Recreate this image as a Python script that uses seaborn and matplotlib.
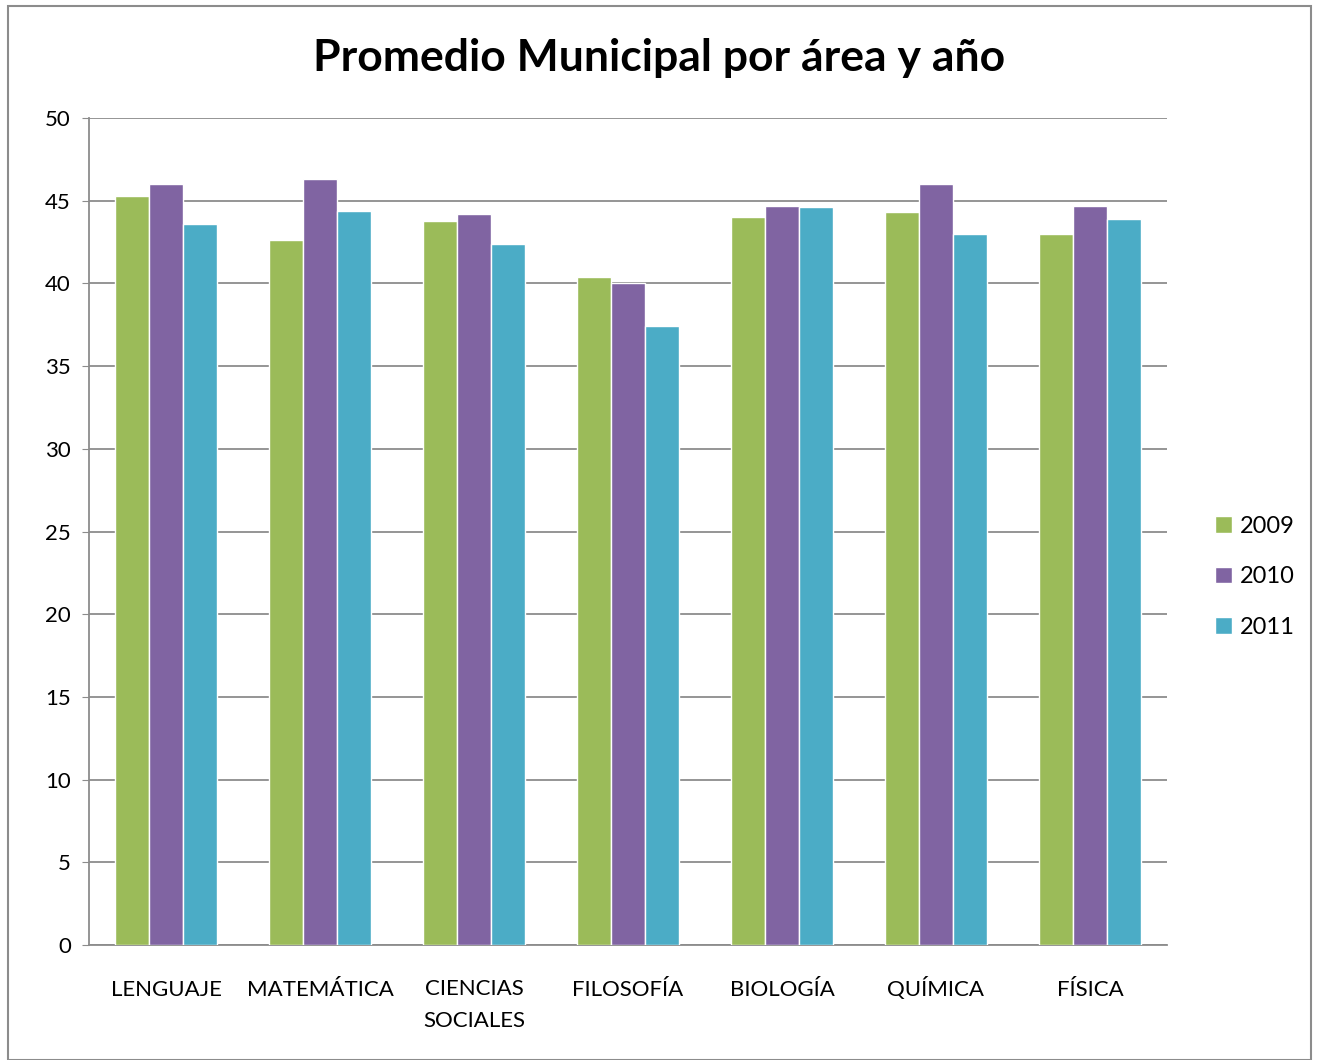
import numpy as np
import pandas as pd
import matplotlib
matplotlib.use("Agg")
import matplotlib.pyplot as plt
from matplotlib.patches import Rectangle
from matplotlib.transforms import ScaledTranslation
import seaborn as sns

# Data
areas = ["LENGUAJE", "MATEMÁTICA", "CIENCIAS\nSOCIALES", "FILOSOFÍA",
         "BIOLOGÍA", "QUÍMICA", "FÍSICA"]
years = ["2009", "2010", "2011"]
scores_2009 = [45.3, 42.6, 43.8, 40.4, 44.0, 44.3, 43.0]
scores_2010 = [46.0, 46.3, 44.2, 40.0, 44.7, 46.0, 44.7]
scores_2011 = [43.6, 44.4, 42.4, 37.4, 44.6, 43.0, 43.9]
colors = ["#9BBB59", "#8064A2", "#4BACC6"]

df = pd.DataFrame({
    "area": areas * 3,
    "year": [y for y in years for _ in areas],
    "score": scores_2009 + scores_2010 + scores_2011,
})

sns.set_style("white")
plt.rcParams["font.family"] = ["Lato", "DejaVu Sans"]
plt.rcParams["text.color"] = "black"
plt.rcParams["xtick.color"] = "black"
plt.rcParams["ytick.color"] = "black"

fig = plt.figure(figsize=(13.18, 10.6), dpi=100)
ax = fig.add_axes([89 / 1318, 1 - 945 / 1060, (1167 - 89) / 1318, (945 - 118) / 1060])

sns.barplot(data=df, x="area", y="score", hue="year", palette=colors,
            width=0.66, saturation=1, ax=ax, zorder=3)

ax.set_ylim(0, 50)
ax.set_yticks(np.arange(0, 51, 5))
ax.yaxis.grid(True, color="#8c8c8c", linewidth=1.3, zorder=0)
ax.set_axisbelow(True)
ax.set_xlabel("")
ax.set_ylabel("")
ax.set_xlim(-0.5, len(areas) - 0.5)

for s in ["top", "right"]:
    ax.spines[s].set_visible(False)
for s in ["left", "bottom"]:
    ax.spines[s].set_color("#8c8c8c")
    ax.spines[s].set_linewidth(1.3)

ax.tick_params(axis="y", labelsize=16, length=5, color="#8c8c8c", pad=8,
               left=True, labelcolor="black")
ax.tick_params(axis="x", labelsize=16, length=0, pad=37, labelcolor="black")

# baseline-align the labels (accents otherwise push some down);
# multi-line labels get shifted so their first line sits on the same baseline
line_spacing = 1.77
line_step_in = 0.31
for lbl in ax.get_xticklabels():
    lbl.set_linespacing(line_spacing)
    lbl.set_verticalalignment("baseline")
    extra = lbl.get_text().count("\n")
    if extra:
        lbl.set_transform(lbl.get_transform() +
                          ScaledTranslation(0, -extra * line_step_in,
                                            fig.dpi_scale_trans))

fig.text(0.5, 1 - 58 / 1060, "Promedio Municipal por área y año", ha="center",
         va="center", fontsize=32, fontweight="bold", color="black")

leg = ax.legend(title=None, loc="center left", bbox_to_anchor=(1.025, 0.445),
                frameon=False, fontsize=17, handlelength=0.7, handleheight=0.7,
                handletextpad=0.35, labelspacing=1.25)
for t in leg.get_texts():
    t.set_color("black")

fig.patches.append(Rectangle((8 / 1318, 0), 1303 / 1318, 1 - 6 / 1060,
                             transform=fig.transFigure, fill=False,
                             edgecolor="#8c8c8c", linewidth=1.5))

fig.savefig("out.png", dpi=100)
